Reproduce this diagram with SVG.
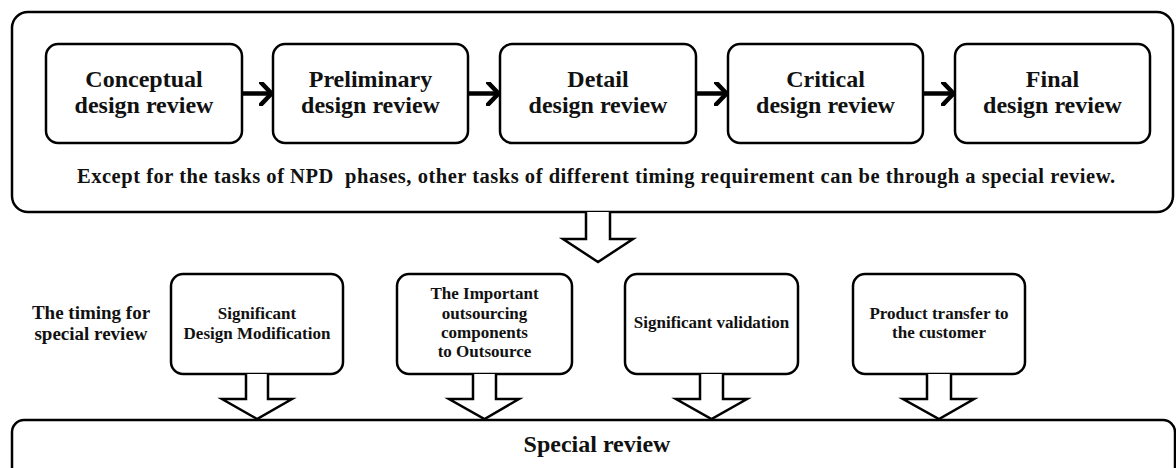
<svg xmlns="http://www.w3.org/2000/svg" width="1176" height="468" viewBox="0 0 1176 468">
<defs>
<style>
.box{fill:#fff;stroke:#000;stroke-width:2.5}
.t{font-family:"Liberation Serif","Times New Roman",serif;font-weight:bold;fill:#111;text-anchor:middle}
.big{font-size:24px}
.mid{font-size:19px}
.sm{font-size:17px}
.conn{stroke:#000;stroke-width:4.5;fill:none}
.blk{fill:#fff;stroke:#000;stroke-width:2.5;stroke-linejoin:miter}
</style>
<marker id="chev" viewBox="0 0 14 24" refX="13" refY="12" markerWidth="14" markerHeight="24" markerUnits="userSpaceOnUse" orient="auto">
<path d="M2,1 L12.5,12 L2,23" fill="none" stroke="#000" stroke-width="4.5" stroke-linecap="round" stroke-linejoin="miter"/>
</marker>
</defs>
<rect width="1176" height="468" fill="#fff"/>
<g id="outer">
<rect class="box" x="12" y="12" width="1161" height="200" rx="16"/>
<text class="t" style="font-size:20.5px;text-anchor:start" x="77" y="183" textLength="1038" lengthAdjust="spacing" xml:space="preserve">Except for the tasks of NPD  phases, other tasks of different timing requirement can be through a special review.</text>
</g>
<g id="n1"><rect class="box" x="46" y="44" width="196" height="99" rx="12"/><text class="t big" x="144" y="87">Conceptual</text><text class="t big" x="144" y="113">design review</text></g>
<g id="n2"><rect class="box" x="273" y="44" width="195" height="99" rx="12"/><text class="t big" x="370.5" y="87">Preliminary</text><text class="t big" x="370.5" y="113">design review</text></g>
<g id="n3"><rect class="box" x="500" y="44" width="196" height="99" rx="12"/><text class="t big" x="598" y="87">Detail</text><text class="t big" x="598" y="113">design review</text></g>
<g id="n4"><rect class="box" x="728" y="44" width="195" height="99" rx="12"/><text class="t big" x="825.5" y="87">Critical</text><text class="t big" x="825.5" y="113">design review</text></g>
<g id="n5"><rect class="box" x="955" y="44" width="195" height="99" rx="12"/><text class="t big" x="1052.5" y="87">Final</text><text class="t big" x="1052.5" y="113">design review</text></g>
<g id="label-timing"><text class="t mid" x="91" y="319">The timing for</text><text class="t mid" x="91" y="340">special review</text></g>
<g id="s1"><rect class="box" x="171" y="274" width="172" height="100" rx="12"/><text class="t sm" x="257" y="319">Significant</text><text class="t sm" x="257" y="339">Design Modification</text></g>
<g id="s2"><rect class="box" x="397" y="274" width="175" height="100" rx="12"/><text class="t sm" x="484.5" y="299">The Important</text><text class="t sm" x="484.5" y="319">outsourcing</text><text class="t sm" x="484.5" y="338">components</text><text class="t sm" x="484.5" y="357">to Outsource</text></g>
<g id="s3"><rect class="box" x="625" y="274" width="173" height="100" rx="12"/><text class="t sm" x="711.5" y="328">Significant validation</text></g>
<g id="s4"><rect class="box" x="853" y="274" width="172" height="100" rx="12"/><text class="t sm" x="939" y="319">Product transfer to</text><text class="t sm" x="939" y="338">the customer</text></g>
<g id="special"><rect class="box" x="12" y="420" width="1163" height="80" rx="12"/><text class="t big" x="597" y="452">Special review</text></g>
<g id="connectors">
<line class="conn" x1="242" y1="93.5" x2="272" y2="93.5" marker-end="url(#chev)"/>
<line class="conn" x1="468" y1="93.5" x2="499" y2="93.5" marker-end="url(#chev)"/>
<line class="conn" x1="696" y1="93.5" x2="727" y2="93.5" marker-end="url(#chev)"/>
<line class="conn" x1="923" y1="93.5" x2="954" y2="93.5" marker-end="url(#chev)"/>
<path class="blk" d="M586,212 L586,239 L563,239 L598,262 L633,239 L610,239 L610,212"/>
<path class="blk" d="M246,374 L246,399 L222,399 L257,419 L292,399 L268,399 L268,374"/>
<path class="blk" d="M473,374 L473,399 L449,399 L484.5,419 L519,399 L496,399 L496,374"/>
<path class="blk" d="M700,374 L700,399 L676,399 L711.5,419 L747,399 L723,399 L723,374"/>
<path class="blk" d="M927,374 L927,399 L903,399 L939,419 L974,399 L951,399 L951,374"/>
</g>
</svg>
